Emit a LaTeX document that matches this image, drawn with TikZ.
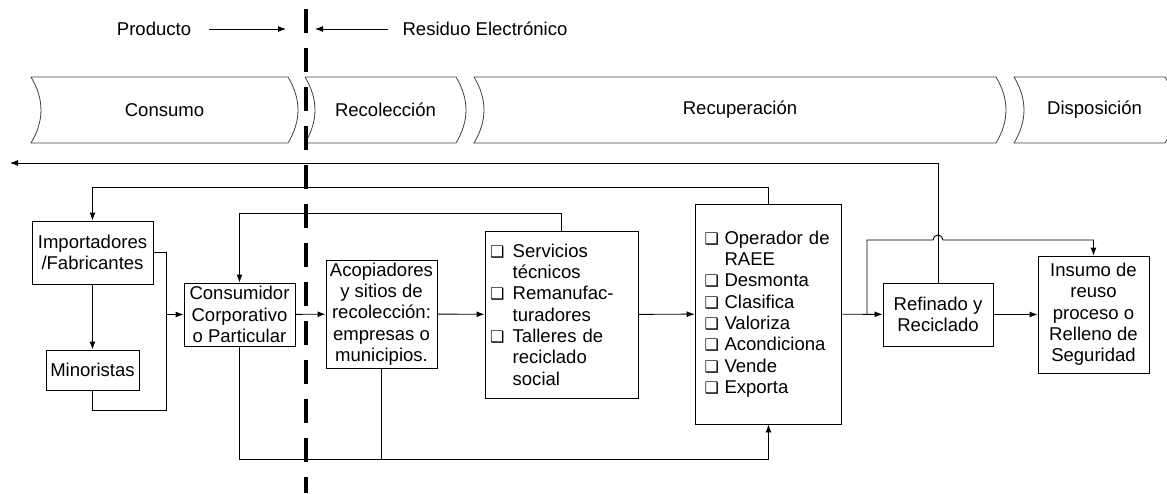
\documentclass[tikz,border=0pt]{standalone}
\usepackage{fontspec}
\setmainfont{Liberation Sans}
\newfontfamily\chkfont{DejaVu Sans}
\usetikzlibrary{arrows.meta}

\newcommand\chk[1][17pt]{\makebox[#1][l]{\chkfont\fontsize{12pt}{12pt}\selectfont ❑}}

\tikzset{
    box/.style={draw, align=center, inner sep=2pt},
    listbox/.style={draw, align=left, inner ysep=2pt},
    phase/.style={draw=black!75, line width=0.6pt},
    arr/.style={-{Latex[length=6pt,width=4.5pt]}},
    divide/.style={line width=3pt, dash pattern=on 18pt off 11.25pt}
}

\begin{document}
\begin{tikzpicture}[x=0.75pt, y=-0.75pt, line width=0.7pt, font=\fontsize{13.9pt}{16pt}\selectfont]
\useasboundingbox (0,0) rectangle (1167,493);
% product / waste
\node (prod) at (154,29) {Producto};
\node (waste) at (485,29) {Residuo Electrónico};
\coordinate (p1) at (209,29);
\coordinate (p2) at (286,29);
\coordinate (w1) at (388,29);
\coordinate (w2) at (315,29);
\draw[arr] (p1) -- (p2);
\draw[arr] (w1) -- (w2);
% stages
\foreach \a/\b/\t [count=\i] in {31/288/Consumo, 305/456/Recolección, 474/996/Recuperación, 1014/1165/Disposición} {
    \draw[phase] (\a,77) -- (\b,77) .. controls (\b+13.3,99) and (\b+13.3,121) .. (\b,143) -- (\a,143) .. controls (\a+13.3,121) and (\a+13.3,99) .. (\a,77);
    \node (stage\i) at ({(\a+\b)/2+5},110) {\t};
}
% boxes
\node[box, minimum width=90.75pt, minimum height=47.25pt] (imp) at (92.5,252.5) {Importadores\\/Fabricantes};
\node[box, minimum width=69.75pt, minimum height=30pt] (mino) at (92.5,370) {Minoristas};
\node[box, minimum width=83.25pt, minimum height=47.25pt] (cons) at (239.5,314.5) {Consumidor\\Corporativo\\o Particular};
\node[box, minimum width=83.25pt, minimum height=79.5pt] (acop) at (381.5,314) {Acopiadores\\y sitios de\\recolección:\\empresas o\\municipios.};
\node[listbox, inner xsep=3.75pt, text width=107.25pt, minimum height=125.25pt] (serv) at (561.5,314.5) {\chk Servicios\\\hspace*{17pt}técnicos\\\chk Remanufac-\\\hspace*{17pt}turadores\\\chk Talleres de\\\hspace*{17pt}reciclado\\\hspace*{17pt}social};
\node[listbox, inner xsep=7pt, text width=96pt, minimum height=165pt] (oper) at (768.5,314) {\chk[15pt]Operador de\\\hspace*{15pt}RAEE\\\chk[15pt]Desmonta\\\chk[15pt]Clasifica\\\chk[15pt]Valoriza\\\chk[15pt]Acondiciona\\\chk[15pt]Vende\\\chk[15pt]Exporta};
\node[box, minimum width=82.5pt, minimum height=47.25pt] (ref) at (938,314.5) {Refinado y\\Reciclado};
\node[box, minimum width=83.25pt, minimum height=87.75pt] (ins) at (1093.5,314.5) {Insumo de\\reuso\\proceso o\\Relleno de\\Seguridad};
% flows
\coordinate (jn) at (166,314.5);
\coordinate (m1) at (166,410);
\coordinate (base) at (0,459);
\coordinate (br) at (867,314.5);
\coordinate (hop) at (938,240);
\coordinate (back) at (10,163);
\draw[arr] (imp) -- (mino);
\draw (imp.east) -| (m1) -| (mino.south);
\draw[arr] (jn) -- (cons.west);
\draw[arr] (cons) -- (acop);
\draw[arr] (acop) -- (serv);
\draw[arr] (serv) -- (oper);
\draw[arr] (oper) -- (ref);
\draw[arr] (ref) -- (ins);
\draw[arr] (oper.north) -- ++(0,-16) -| (imp.north);
\draw[arr] (serv.north) -- ++(0,-17) -| (cons.north);
\draw[arr] (cons.south) |- (oper.south |- base) -- (oper.south);
\draw (acop.south) -- (acop.south |- base);
\draw[arr] (ref.north) |- (back);
\draw[arr] (br) |- ([xshift=-3.75pt]hop) arc (180:0:3.75pt) -| (ins.north);
% divide line
\draw[divide] (306,9) -- (306,493);
\end{tikzpicture}
\end{document}
